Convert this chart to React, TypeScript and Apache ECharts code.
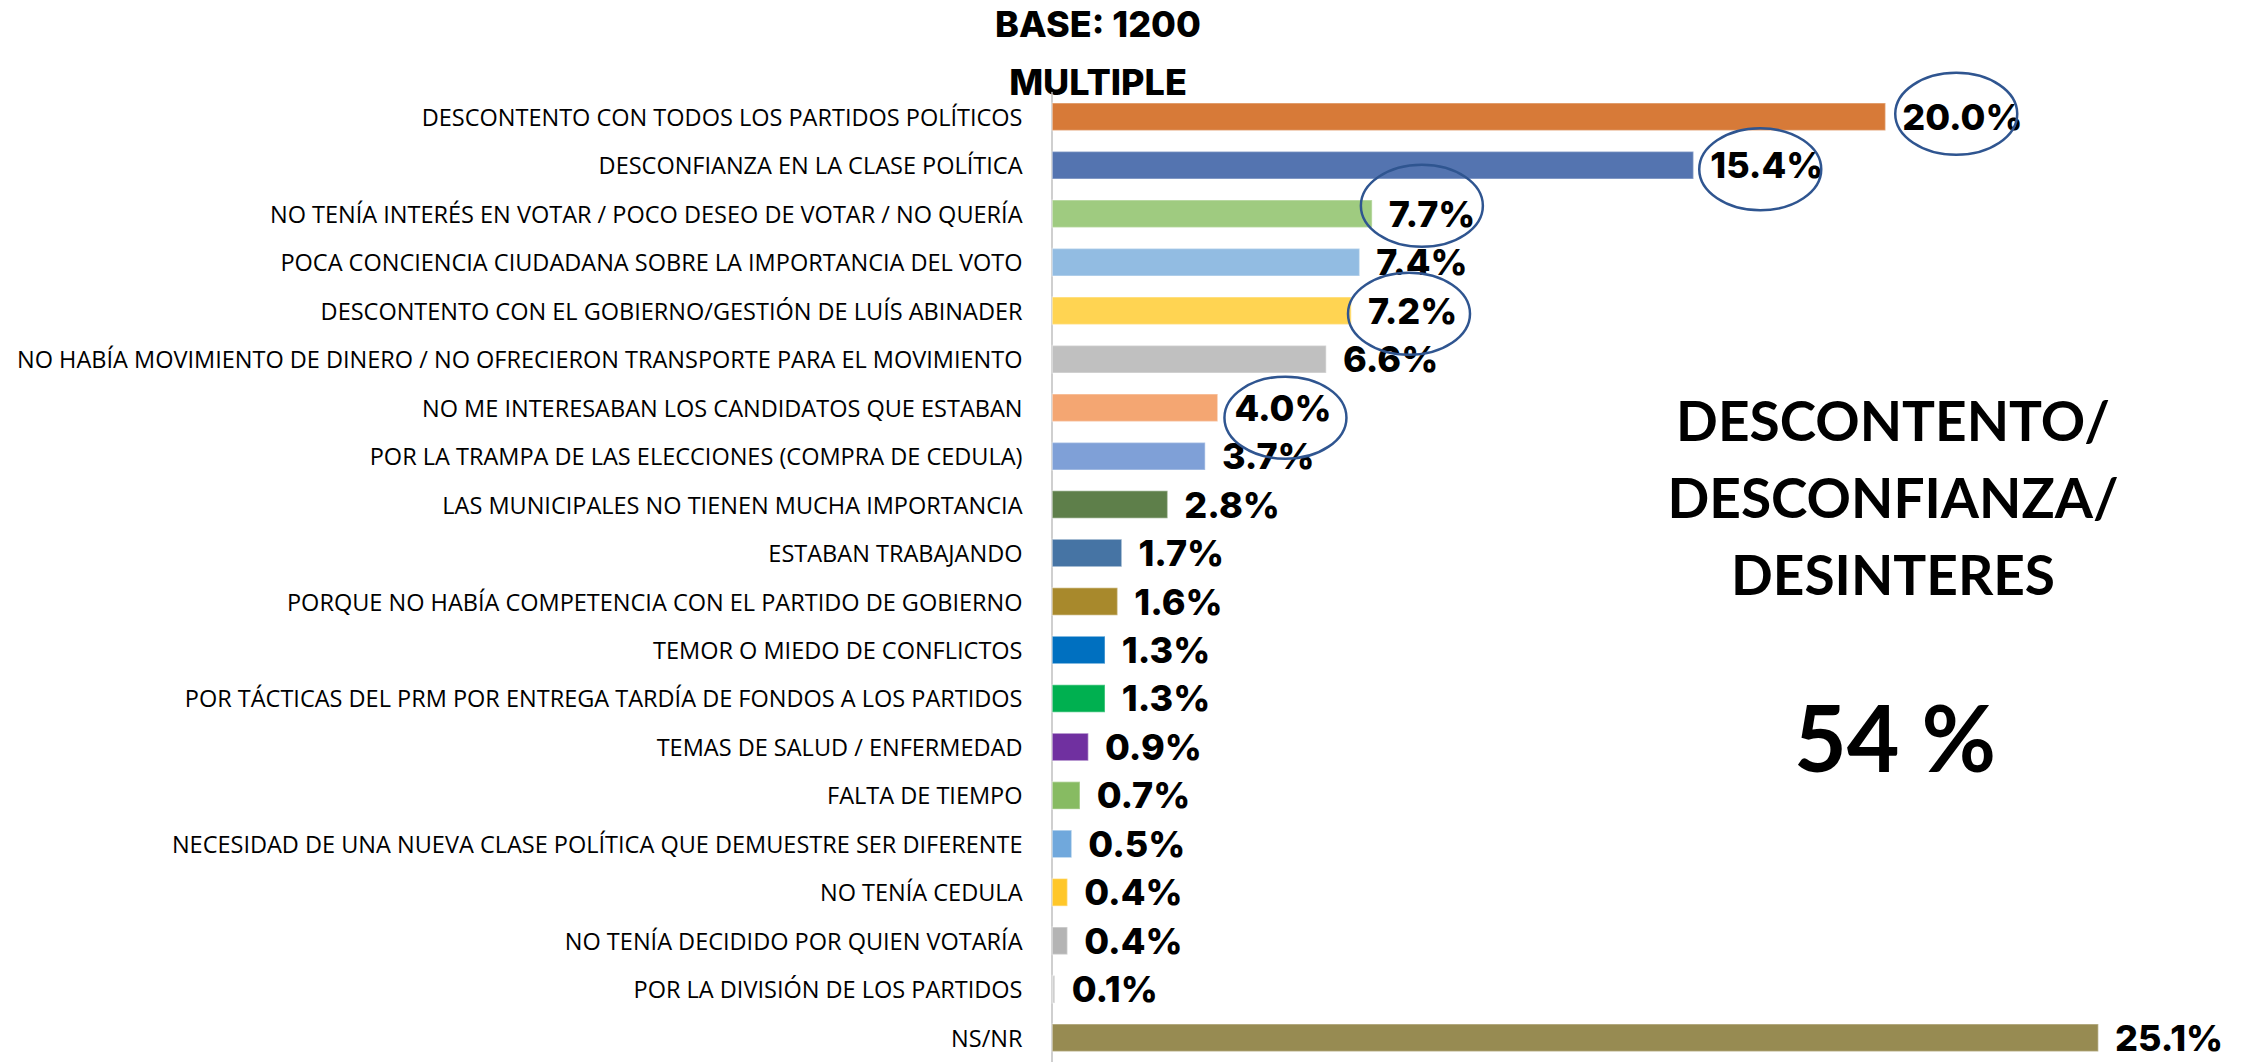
import React, { useEffect, useRef } from "react";
import * as echarts from "echarts";

const categories = [
  "DESCONTENTO CON TODOS LOS PARTIDOS POLÍTICOS",
  "DESCONFIANZA EN LA CLASE POLÍTICA",
  "NO TENÍA INTERÉS EN VOTAR / POCO DESEO DE VOTAR / NO QUERÍA",
  "POCA CONCIENCIA CIUDADANA SOBRE LA IMPORTANCIA DEL VOTO",
  "DESCONTENTO CON EL GOBIERNO/GESTIÓN DE LUÍS ABINADER",
  "NO HABÍA MOVIMIENTO DE DINERO / NO OFRECIERON TRANSPORTE PARA EL MOVIMIENTO",
  "NO ME INTERESABAN LOS CANDIDATOS QUE ESTABAN",
  "POR LA TRAMPA DE LAS ELECCIONES (COMPRA DE CEDULA)",
  "LAS MUNICIPALES NO TIENEN MUCHA IMPORTANCIA",
  "ESTABAN TRABAJANDO",
  "PORQUE NO HABÍA COMPETENCIA CON EL PARTIDO DE GOBIERNO",
  "TEMOR O MIEDO DE CONFLICTOS",
  "POR TÁCTICAS DEL PRM POR ENTREGA TARDÍA DE FONDOS A LOS PARTIDOS",
  "TEMAS DE SALUD / ENFERMEDAD",
  "FALTA DE TIEMPO",
  "NECESIDAD DE UNA NUEVA CLASE POLÍTICA QUE DEMUESTRE SER DIFERENTE",
  "NO TENÍA CEDULA",
  "NO TENÍA DECIDIDO POR QUIEN VOTARÍA",
  "POR LA DIVISIÓN DE LOS PARTIDOS",
  "NS/NR",
];

const values = [20.0, 15.4, 7.7, 7.4, 7.2, 6.6, 4.0, 3.7, 2.8, 1.7, 1.6, 1.3, 1.3, 0.9, 0.7, 0.5, 0.4, 0.4, 0.1, 25.1];

const barColors = [
  "#D77A38", "#5474B0", "#9FCB80", "#92BCE2", "#FFD452", "#C0C0C0", "#F4A672",
  "#7FA0D7", "#5E7F4A", "#4674A4", "#A8892C", "#0070C0", "#00B050", "#7030A0",
  "#87BB62", "#70A8DC", "#FFC729", "#B4B4B4", "#CFCFCF", "#978B52",
];

// circled labels: category index and offset of the ellipse centre from the bar end / bar centre
const circledIdx = [0, 1, 2, 4, 6];
const circleDx = [70, 66, 49, 57, 67];
const circleDy = [-3, 4, -8, 3, 10];

const titleLines = ["BASE: 1200", "MULTIPLE"];
const sideLines = ["DESCONTENTO/", "DESCONFIANZA/", "DESINTERES"];
const sideTotal = "54 %";

export default function App() {
  const ref = useRef<HTMLDivElement>(null);
  useEffect(() => {
    if (!ref.current) return;
    const chart = echarts.init(ref.current, null, { renderer: "svg" });
    chart.setOption({
      animation: false,
      backgroundColor: "#FFFFFF",
      grid: { left: 1051.5, right: 0, top: 92.6, bottom: -7, containLabel: false },
      xAxis: {
        type: "value",
        min: 0,
        max: 28.5,
        show: false,
        splitLine: { show: false },
      },
      yAxis: {
        type: "category",
        inverse: true,
        data: categories,
        axisLine: { show: true, lineStyle: { color: "#BFBFBF", width: 1.5 } },
        axisTick: { show: false },
        axisLabel: {
          margin: 29,
          color: "#000000",
          fontFamily: "Open Sans",
          fontSize: 23.5,
          fontWeight: 400,
        },
      },
      series: [
        {
          type: "bar",
          barWidth: 29,
          data: values.map((v, i) => ({
            value: v,
            itemStyle: {
              color: barColors[i],
              borderColor: "rgba(255,255,255,0.35)",
              borderWidth: 1.5,
            },
          })),
          label: {
            show: true,
            position: "right",
            distance: 16,
            formatter: (p: any) => p.value.toFixed(1) + "%",
            color: "#000000",
            fontFamily: "Inter",
            fontWeight: 800,
            fontSize: 36,
          },
        },
      ],
    });

    const graphics: any[] = [];
    circledIdx.forEach((ci, k) => {
      const pt = chart.convertToPixel({ gridIndex: 0 }, [values[ci], ci]) as number[];
      graphics.push({
        type: "ellipse",
        shape: { cx: pt[0] + circleDx[k], cy: pt[1] + circleDy[k], rx: 61, ry: 41 },
        style: { fill: "none", stroke: "#2F5590", lineWidth: 2.5 },
        z: 100,
      });
    });
    titleLines.forEach((t, i) => {
      graphics.push({
        type: "text",
        x: 1098,
        y: 24 + i * 58,
        style: {
          text: t,
          fill: "#000000",
          font: "800 36px Inter",
          textAlign: "center",
          textVerticalAlign: "middle",
        },
      });
    });
    sideLines.forEach((t, i) => {
      graphics.push({
        type: "text",
        x: 1893,
        y: 420 + i * 77,
        style: {
          text: t,
          fill: "#000000",
          font: "700 55px Lato",
          textAlign: "center",
          textVerticalAlign: "middle",
        },
      });
    });
    graphics.push({
      type: "text",
      x: 1895,
      y: 736,
      style: {
        text: sideTotal,
        fill: "#000000",
        font: "700 91px Lato",
        textAlign: "center",
        textVerticalAlign: "middle",
      },
    });
    chart.setOption({ graphic: graphics });

    return () => chart.dispose();
  }, []);
  return (
    <div
      ref={ref}
      style={{ position: "absolute", left: 0, top: 0, width: 2241, height: 1062 }}
    />
  );
}
